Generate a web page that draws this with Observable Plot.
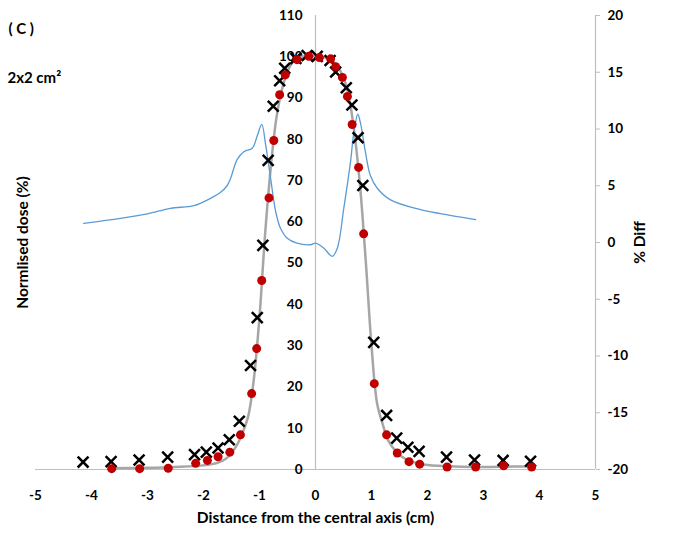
<!DOCTYPE html>
<html>
<head>
<meta charset="utf-8">
<script src="https://cdn.jsdelivr.net/npm/d3@7"></script>
<script src="https://cdn.jsdelivr.net/npm/@observablehq/plot@0.6"></script>
<style>
  html, body { margin: 0; padding: 0; background: #fff; }
  #chart svg { font-family: Lato, "Open Sans", sans-serif; font-weight: bold; }
  #chart [aria-label^="y-axis"] line,
  #chart [aria-label="y-axis tick"] path { stroke: #bfbfbf; }
  #chart [aria-label^="y-axis"] text { fill: black; }
</style>
</head>
<body>
<div id="chart"></div>
<script>
// Measured profile (crosses)
const measX = [-4.15, -3.65, -3.15, -2.64, -2.16, -1.95, -1.74, -1.54, -1.36, -1.16, -1.04, -0.94, -0.845, -0.755, -0.64, -0.55, -0.35, -0.15, 0.03, 0.26, 0.36, 0.55, 0.65, 0.76, 0.845, 1.04, 1.27, 1.45, 1.65, 1.85, 2.34, 2.84, 3.35, 3.84];
const measDose = [1.8, 1.9, 2.3, 3.0, 3.6, 4.2, 5.2, 7.2, 11.7, 25.2, 36.8, 54.3, 74.9, 88.0, 94.2, 97.2, 99.6, 100.3, 100.1, 99.1, 96.3, 92.5, 88.3, 80.4, 68.8, 30.8, 13.1, 7.6, 5.4, 4.4, 3.0, 2.3, 2.2, 2.0];

// Calculated profile (red dots)
const calcX = [-3.64, -3.14, -2.63, -2.14, -1.93, -1.74, -1.53, -1.34, -1.14, -1.05, -0.96, -0.83, -0.745, -0.64, -0.54, -0.33, -0.12, 0.07, 0.27, 0.36, 0.48, 0.57, 0.655, 0.77, 0.86, 1.05, 1.27, 1.46, 1.67, 1.86, 2.35, 2.86, 3.36, 3.86];
const calcDose = [0.2, 0.2, 0.3, 1.5, 2.2, 3.1, 4.2, 8.4, 18.4, 29.3, 45.8, 65.8, 79.7, 90.8, 95.6, 99.3, 100.1, 99.8, 99.5, 97.6, 95.0, 90.4, 83.6, 73.2, 57.1, 20.8, 8.4, 4.0, 1.9, 1.3, 0.6, 0.6, 0.9, 0.6];

// Reference profile (grey line)
const refX = [-3.64, -3.0, -2.5, -2.0, -1.75, -1.6, -1.5, -1.4, -1.3, -1.2, -1.1, -1.0, -0.9, -0.8, -0.7, -0.6, -0.5, -0.4, -0.3, -0.1, 0.1, 0.3, 0.4, 0.5, 0.6, 0.7, 0.8, 0.9, 1.0, 1.1, 1.2, 1.3, 1.45, 1.6, 1.8, 2.0, 2.5, 3.0, 3.5, 3.86];
const refDose = [0.3, 0.4, 0.6, 1.0, 1.6, 2.6, 4.0, 6.0, 9.0, 13.0, 22.0, 37.0, 57.0, 73.0, 85.0, 92.0, 96.5, 98.8, 99.8, 100.2, 100.0, 99.0, 97.5, 95.0, 90.0, 81.0, 68.0, 50.0, 30.0, 16.0, 11.0, 7.0, 4.2, 2.6, 1.6, 1.1, 0.7, 0.6, 0.7, 0.7];

// Percentage difference (blue line, right axis)
const diffX = [-4.14, -3.48, -3.0, -2.59, -2.17, -1.875, -1.70, -1.58, -1.52, -1.40, -1.28, -1.13, -1.04, -0.96, -0.89, -0.80, -0.71, -0.625, -0.505, -0.33, -0.09, 0.0, 0.15, 0.30, 0.39, 0.505, 0.625, 0.685, 0.755, 0.80, 0.89, 0.98, 1.10, 1.34, 1.875, 2.23, 2.86];
const diffPct = [1.69, 2.13, 2.52, 3.01, 3.25, 3.89, 4.4, 5.0, 5.6, 7.3, 8.0, 8.3, 9.4, 10.4, 8.6, 5.6, 2.7, 1.25, 0.38, -0.06, -0.2, -0.06, -0.5, -1.23, -0.5, 3.0, 7.1, 9.7, 11.3, 10.6, 8.0, 5.9, 4.8, 3.75, 2.89, 2.54, 2.02];

// Axis ticks
const xTicks = [-5, -4, -3, -2, -1, 0, 1, 2, 3, 4, 5];
const doseTicks = [0, 10, 20, 30, 40, 50, 60, 70, 80, 90, 100, 110];
const diffTicks = [-20, -15, -10, -5, 0, 5, 10, 15, 20];

// The % diff axis (-20..20) shares the vertical extent of the dose axis (0..110)
const doseMax = 110, diffMin = -20, diffMax = 20;
const diffToDose = d => (d - diffMin) / (diffMax - diffMin) * doseMax;
const doseToDiff = v => Math.round(v / doseMax * (diffMax - diffMin) + diffMin);

const meas = measX.map((x, i) => ({x, y: measDose[i]}));
const calc = calcX.map((x, i) => ({x, y: calcDose[i]}));
const ref = refX.map((x, i) => ({x, y: refDose[i]}));
const diff = diffX.map((x, i) => ({x, d: diffPct[i]}));

const axisGrey = "#bfbfbf";

const chart = Plot.plot({
  width: 694,
  height: 537,
  marginLeft: 35,
  marginRight: 99,
  marginTop: 15,
  marginBottom: 68,
  style: {fontFamily: "Lato, 'Open Sans', sans-serif", fontWeight: "bold", fontSize: "13.5px", color: "black", background: "white"},
  x: {domain: [-5, 5], axis: null},
  y: {
    domain: [0, doseMax],
    axis: "right",
    ticks: diffTicks.map(diffToDose),
    tickFormat: doseToDiff,
    tickSize: 4,
    tickPadding: 8,
    label: null
  },
  marks: [
    // axis lines
    Plot.ruleY([0], {stroke: axisGrey, strokeWidth: 1.2}),
    Plot.ruleX([0], {y1: 0, y2: doseMax, stroke: axisGrey, strokeWidth: 1.2}),
    Plot.ruleX([5], {y1: 0, y2: doseMax, stroke: axisGrey, strokeWidth: 1.2}),
    // left (dose) tick labels along the central axis
    Plot.text(doseTicks, {x: 0, y: d => d, text: d => String(d), dx: -13, textAnchor: "end", fill: "black"}),
    // x tick labels
    Plot.text(xTicks, {x: d => d, y: 0, text: d => String(d), dy: 26, fill: "black"}),
    // profiles
    Plot.line(ref, {x: "x", y: "y", stroke: "#a6a6a6", strokeWidth: 2.5, curve: "catmull-rom"}),
    Plot.line(diff, {x: "x", y: d => diffToDose(d.d), stroke: "#5b9bd5", strokeWidth: 1.3, curve: "catmull-rom"}),
    Plot.dot(meas, {x: "x", y: "y", symbol: "times", r: 5, stroke: "black", strokeWidth: 2.5}),
    Plot.dot(calc, {x: "x", y: "y", r: 4.5, fill: "#c00000", stroke: "none"}),
    // titles and axis labels
    Plot.text(["( C )"], {frameAnchor: "top-left", dx: -27, dy: 8, textAnchor: "start", fontSize: 15, fill: "black"}),
    Plot.text(["2x2 cm²"], {frameAnchor: "top-left", dx: -28, dy: 57, textAnchor: "start", fontSize: 15, fill: "black"}),
    Plot.text(["Normlised dose (%)"], {frameAnchor: "left", dx: -12, rotate: -90, textAnchor: "middle", fontSize: 15.5, fill: "black"}),
    Plot.text(["% Diff"], {frameAnchor: "right", dx: 45, rotate: -90, textAnchor: "middle", fontSize: 15.5, fill: "black"}),
    Plot.text(["Distance from the central axis (cm)"], {frameAnchor: "bottom", dy: 53, fontSize: 15.5, fill: "black"})
  ]
});

document.getElementById("chart").appendChild(chart);
</script>
</body>
</html>
